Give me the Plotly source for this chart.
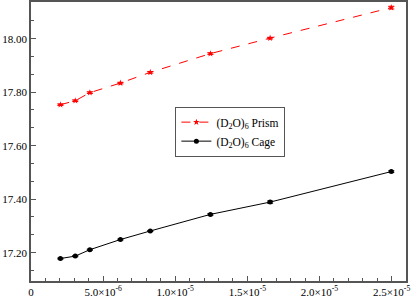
import plotly.graph_objects as go

x_vals = [2.04e-6, 3.07e-6, 4.08e-6, 6.2e-6, 8.27e-6, 12.44e-6, 16.58e-6, 24.98e-6]
prism = [17.753, 17.768, 17.798, 17.834, 17.874, 17.944, 18.002, 18.116]
cage = [17.178, 17.187, 17.211, 17.249, 17.281, 17.343, 17.389, 17.503]
prism_err = [0.003, 0.003, 0.003, 0.003, 0.003, 0.003, 0.003, 0.005]
cage_err = [0.002, 0.002, 0.002, 0.002, 0.002, 0.003, 0.004, 0.003]

x_tickvals = [0, 5e-6, 1e-5, 1.5e-5, 2e-5, 2.5e-5]
x_ticktext = ["0", "5.0×10<sup>-6</sup>", "1.0×10<sup>-5</sup>", "1.5×10<sup>-5</sup>",
              "2.0×10<sup>-5</sup>", "2.5×10<sup>-5</sup>"]
y_tickvals = [17.2, 17.4, 17.6, 17.8, 18.0]
y_ticktext = ["17.20", "17.40", "17.60", "17.80", "18.00"]

prism_name = "(D<sub>2</sub>O)<sub>6</sub> Prism"
cage_name = "(D<sub>2</sub>O)<sub>6</sub> Cage"

fig = go.Figure()
fig.add_trace(go.Scatter(
    x=x_vals, y=prism, name=prism_name, mode="lines+markers",
    line=dict(color="#ff0000", width=1, dash="dash"),
    marker=dict(color="#ff0000", size=5, symbol="star"),
    error_y=dict(type="data", array=prism_err, color="#ff0000", thickness=1, width=3),
))
fig.add_trace(go.Scatter(
    x=x_vals, y=cage, name=cage_name, mode="lines+markers",
    line=dict(color="#000000", width=1),
    marker=dict(color="#000000", size=5, symbol="circle"),
    error_y=dict(type="data", array=cage_err, color="#000000", thickness=1, width=3),
))

serif = "Liberation Serif, Times New Roman, serif"
axis_font = dict(family=serif, size=11, color="#000000")

fig.update_layout(
    width=411, height=298,
    margin=dict(l=31, r=5, t=2, b=17, autoexpand=False),
    paper_bgcolor="white", plot_bgcolor="white",
    showlegend=True,
    legend=dict(
        x=0.385, y=0.625, xanchor="left", yanchor="top",
        bordercolor="#555555", borderwidth=1, bgcolor="white",
        font=dict(family=serif, size=11.5, color="#000000"),
        itemwidth=30, tracegroupgap=0,
    ),
    xaxis=dict(
        range=[0, 2.6e-5], tickmode="array", tickvals=x_tickvals, ticktext=x_ticktext,
        ticks="inside", ticklen=5, tickwidth=1, tickcolor="#555555",
        showline=True, linecolor="#555555", linewidth=1.5, mirror=True,
        showgrid=False, zeroline=False, tickfont=axis_font, ticklabeloverflow="allow",
        minor=dict(dtick=1e-6, tick0=0, ticks="inside", ticklen=3, tickcolor="#555555", showgrid=False),
    ),
    yaxis=dict(
        range=[17.094, 18.137], tickmode="array", tickvals=y_tickvals, ticktext=y_ticktext,
        ticks="inside", ticklen=5, tickwidth=1, tickcolor="#555555",
        showline=True, linecolor="#555555", linewidth=1.5, mirror=True,
        showgrid=False, zeroline=False, tickfont=axis_font,
        minor=dict(dtick=0.2 / 3, tick0=17.2, ticks="inside", ticklen=3, tickcolor="#555555", showgrid=False),
    ),
)

fig.write_html("out.html", config={"displayModeBar": False},
               post_script="document.body.style.margin='0';document.body.style.overflow='hidden';")
